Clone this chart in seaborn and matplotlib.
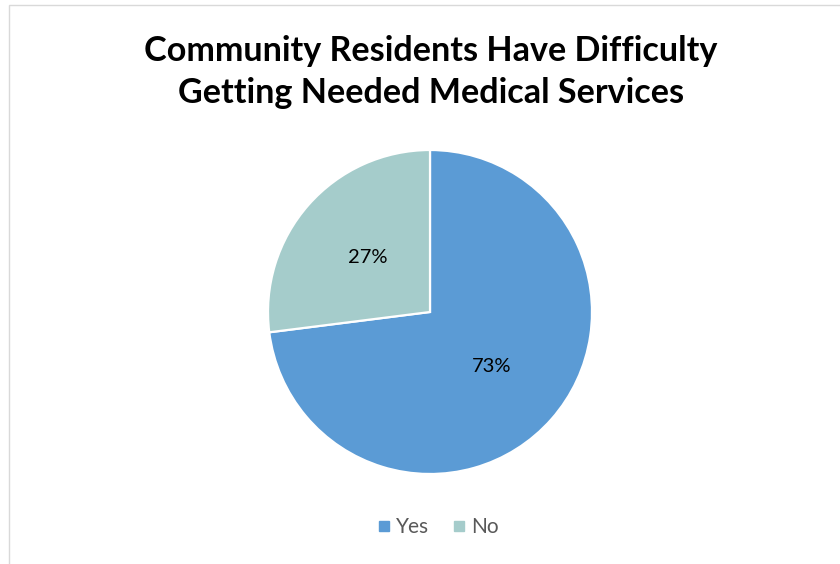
import matplotlib
matplotlib.use("Agg")
import matplotlib.pyplot as plt
import seaborn as sns
from matplotlib.lines import Line2D
from matplotlib.patches import Rectangle

categories = ["Yes", "No"]
values = [73, 27]
colors = ["#5B9BD5", "#A5CCCB"]
title = "Community Residents Have Difficulty\nGetting Needed Medical Services"

sns.set_theme(style="white")
plt.rcParams["font.family"] = ["Lato", "DejaVu Sans"]

W, H = 840, 564
fig = plt.figure(figsize=(W / 100, H / 100), dpi=100)
fig.patch.set_facecolor("white")

# border
fig.add_artist(Rectangle((8.5 / W, -0.05), 1.2, 1 - 4.5 / H + 0.05,
                         transform=fig.transFigure, fill=False,
                         edgecolor="#D9D9D9", linewidth=1.0))

cx, cy, R = 430, 312, 162
ax = fig.add_axes([(cx - R) / W, (H - cy - R) / H, 2 * R / W, 2 * R / H])
wedges, texts, autotexts = ax.pie(
    values, colors=colors, startangle=90, counterclock=False,
    autopct=lambda p: f"{p:.0f}%", pctdistance=0.51,
    wedgeprops=dict(edgecolor="white", linewidth=1.6),
    textprops=dict(fontsize=14.5, color="black"))
ax.set_xlim(-1, 1)
ax.set_ylim(-1, 1)
ax.set_aspect("auto")
for w in wedges:
    w.set_clip_on(False)

fig.text(431 / W, 1 - 72 / H, title, ha="center", va="center",
         fontsize=24.6, fontweight="bold", color="black", linespacing=1.38)

handles = [Line2D([0], [0], marker="s", linestyle="none", markersize=7,
                  markerfacecolor=c, markeredgecolor=c) for c in colors]
leg = fig.legend(handles, categories, loc="center", bbox_to_anchor=(436 / W, 1 - 527 / H),
                 ncol=2, frameon=False, fontsize=15, handletextpad=0.1,
                 columnspacing=0.9, handlelength=1.0)
for t in leg.get_texts():
    t.set_color("#595959")

fig.savefig("out.png", dpi=100, facecolor="white")
